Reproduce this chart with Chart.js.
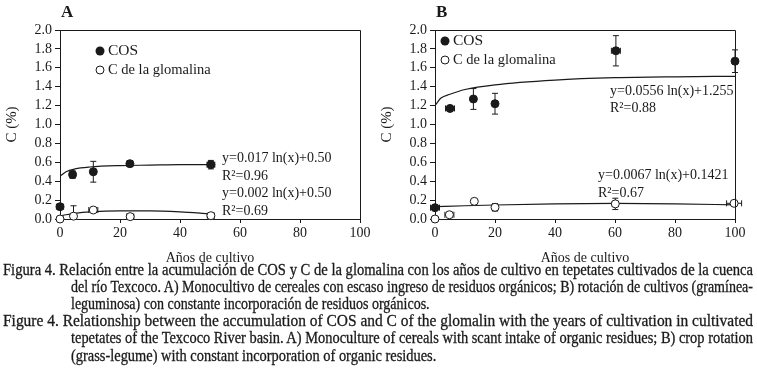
<!DOCTYPE html>
<html>
<head>
<meta charset="utf-8">
<script src="https://cdn.jsdelivr.net/npm/chart.js@4.4.1/dist/chart.umd.min.js"></script>
<style>
  body { margin: 0; background: #fff; width: 757px; height: 387px; overflow: hidden; position: relative;
         font-family: "Liberation Serif", "DejaVu Serif", serif; color: #1a1a1a; }
  #chartA { position: absolute; left: 0; top: 0; }
  #chartB { position: absolute; left: 375px; top: 0; }
  .cap { position: absolute; white-space: nowrap; font-size: 16px; line-height: 20px; transform-origin: 0 50%;
         -webkit-text-stroke: 0.3px #1a1a1a; }
</style>
</head>
<body>
<canvas id="chartA" width="375" height="265"></canvas>
<canvas id="chartB" width="382" height="265"></canvas>

<div class="cap" data-w="750" style="left:3px;top:260px">Figura 4. Relación entre la acumulación de COS y C de la glomalina con los años de cultivo en tepetates cultivados de la cuenca</div>
<div class="cap" data-w="682" style="left:71px;top:277px">del río Texcoco. A) Monocultivo de cereales con escaso ingreso de residuos orgánicos; B) rotación de cultivos (gramínea-</div>
<div class="cap" data-ref="1" style="left:71px;top:294px">leguminosa) con constante incorporación de residuos orgánicos.</div>
<div class="cap" data-w="750" style="left:3px;top:311px">Figure 4. Relationship between the accumulation of COS and C of the glomalin with the years of cultivation in cultivated</div>
<div class="cap" data-w="682" style="left:71px;top:328px">tepetates of the Texcoco River basin. A) Monoculture of cereals with scant intake of organic residues; B) crop rotation</div>
<div class="cap" data-ref="4" style="left:71px;top:346px">(grass-legume) with constant incorporation of organic residues.</div>

<script>
const FONT = "'Liberation Serif', 'DejaVu Serif', serif";
const INK = '#1a1a1a';

// axis ticks
const xTicks = [0, 20, 40, 60, 80, 100];
const yTicks = [0, 0.2, 0.4, 0.6, 0.8, 1.0, 1.2, 1.4, 1.6, 1.8, 2.0];

// panel A - COS
const yearsCosA = [0, 4.2, 11.1, 23.3, 50.3];
const cosA = [0.13, 0.47, 0.50, 0.585, 0.575];
const cosAErrY = [0, 0.04, 0.11, 0.03, 0.045];
const cosAErrX = [1.2, 1, 0, 1, 1.3];
// panel A - C de la glomalina
const yearsGlomA = [0, 4.5, 11.1, 23.4, 50.3];
const glomA = [0.0, 0.03, 0.095, 0.025, 0.035];
const glomAErrY = [0, 0.11, 0, 0, 0];
const glomAErrX = [0, 0, 1.5, 1.2, 1.2];
// panel A - fitted curves
const fitYearsCosA = [0.3, 2, 5, 10, 20, 30, 40, 50];
const fitCosA = [0.46, 0.50, 0.53, 0.55, 0.565, 0.57, 0.575, 0.575];
const fitYearsGlomA = [0, 2, 5, 10, 20, 30, 40, 50];
const fitGlomA = [0.03, 0.045, 0.06, 0.075, 0.085, 0.085, 0.075, 0.055];

// panel B - COS
const yearsCosB = [0, 5, 12.8, 20, 60.3, 100];
const cosB = [0.12, 1.17, 1.27, 1.22, 1.78, 1.67];
const cosBErrY = [0, 0, 0.11, 0.11, 0.16, 0.12];
const cosBErrX = [1.5, 1.5, 0, 0, 1.5, 0];
// panel B - C de la glomalina
const yearsGlomB = [0, 4.8, 13.1, 20, 60.1, 99.7];
const glomB = [0.0, 0.045, 0.187, 0.124, 0.16, 0.166];
const glomBErrY = [0, 0, 0, 0.04, 0.06, 0];
const glomBErrX = [0, 1.5, 0, 1, 1, 2.5];
// panel B - fitted curves
const fitYearsCosB = [0.2, 2, 5, 10, 20, 40, 60, 80, 100];
const fitCosB = [1.21, 1.28, 1.32, 1.37, 1.42, 1.47, 1.495, 1.505, 1.51];
const fitYearsGlomB = [0, 10, 20, 40, 60, 80, 100];
const fitGlomB = [0.13, 0.14, 0.148, 0.16, 0.165, 0.16, 0.15];

function pts(xs, ys) {
    return xs.map((x, i) => ({ x: x, y: ys[i] }));
}

// error bars, drawn under the markers
const errorBars = {
    id: 'errorBars',
    beforeDatasetsDraw(chart) {
        const { ctx, chartArea: a } = chart;
        const x = chart.scales.x, y = chart.scales.y;
        ctx.save();
        ctx.strokeStyle = INK;
        ctx.lineWidth = 1;
        chart.data.datasets.forEach(ds => {
            if (!ds.errY) return;
            ds.data.forEach((p, i) => {
                const px = x.getPixelForValue(p.x);
                const py = y.getPixelForValue(p.y);
                const ey = ds.errY[i], ex = ds.errX[i];
                ctx.beginPath();
                if (ey) {
                    const t = y.getPixelForValue(p.y + ey);
                    const b = Math.min(y.getPixelForValue(p.y - ey), a.bottom);
                    ctx.moveTo(px, t); ctx.lineTo(px, b);
                    ctx.moveTo(px - 3, t); ctx.lineTo(px + 3, t);
                    if (b < a.bottom) { ctx.moveTo(px - 3, b); ctx.lineTo(px + 3, b); }
                }
                if (ex) {
                    const l = x.getPixelForValue(p.x - ex);
                    const r = x.getPixelForValue(p.x + ex);
                    ctx.moveTo(l, py); ctx.lineTo(r, py);
                    ctx.moveTo(l, py - 3); ctx.lineTo(l, py + 3);
                    ctx.moveTo(r, py - 3); ctx.lineTo(r, py + 3);
                }
                ctx.stroke();
            });
        });
        ctx.restore();
    }
};

// frame, panel letter, legend and equations
const extras = {
    id: 'extras',
    afterDraw(chart, args, opts) {
        const { ctx, chartArea: a } = chart;
        ctx.save();
        ctx.strokeStyle = INK;
        ctx.lineWidth = 1;
        ctx.beginPath();
        ctx.moveTo(a.left, a.top + 0.5); ctx.lineTo(a.right + 0.5, a.top + 0.5);
        ctx.lineTo(a.right + 0.5, a.bottom);
        ctx.stroke();

        ctx.fillStyle = INK;
        ctx.textBaseline = 'middle';
        ctx.textAlign = 'left';
        ctx.font = 'bold 17px ' + FONT;
        ctx.fillText(opts.letter, a.left + 1, 13);

        const lx = a.left + opts.legend[0], ly = a.top + opts.legend[1];
        ctx.beginPath(); ctx.arc(lx, ly, 4.5, 0, Math.PI * 2); ctx.fill();
        ctx.font = '15.5px ' + FONT;
        ctx.fillText('COS', lx + 8, ly);
        ctx.font = '14.5px ' + FONT;
        ctx.beginPath(); ctx.arc(lx, ly + 19, 4, 0, Math.PI * 2);
        ctx.fillStyle = '#fff'; ctx.fill(); ctx.stroke();
        ctx.fillStyle = INK;
        ctx.fillText('C de la glomalina', lx + 8, ly + 19);

        ctx.font = '14px ' + FONT;
        opts.eqs.forEach(e => ctx.fillText(e[0], a.left + e[1], a.top + e[2]));
        ctx.restore();
    }
};

function axes() {
    const tickFont = { family: FONT, size: 14 };
    return {
        x: {
            type: 'linear', min: 0, max: 100,
            afterBuildTicks: s => { s.ticks = xTicks.map(v => ({ value: v })); },
            afterFit: s => { s.height = 46; },
            ticks: { color: INK, font: tickFont, padding: 2, maxRotation: 0, autoSkip: false },
            grid: { drawOnChartArea: false, tickLength: 4, color: INK },
            border: { color: INK },
            title: { display: true, text: 'Años de cultivo', color: INK, padding: 0,
                     font: { family: FONT, size: 14, lineHeight: 1 } }
        },
        y: {
            type: 'linear', min: 0, max: 2,
            afterBuildTicks: s => { s.ticks = yTicks.map(v => ({ value: v })); },
            afterFit: s => { s.width = 60; },
            ticks: { color: INK, font: tickFont, padding: 3, autoSkip: false, callback: v => v.toFixed(1) },
            grid: { drawOnChartArea: false, tickLength: 5, color: INK },
            border: { color: INK },
            title: { display: true, text: 'C (%)', color: INK, padding: { top: 3, bottom: 0 },
                     font: { family: FONT, size: 15 } }
        }
    };
}

function panel(id, padRight, sets, extraOpts) {
    const markers = (data, ex, ey, fill) => ({
        data: data, errX: ex, errY: ey, order: 1, clip: false,
        pointRadius: 4, pointHoverRadius: 4, backgroundColor: fill, borderColor: INK, borderWidth: 1
    });
    const curve = data => ({
        data: data, showLine: true, order: 2, clip: false, pointRadius: 0,
        borderColor: INK, borderWidth: 1.2, cubicInterpolationMode: 'monotone', fill: false
    });
    return new Chart(document.getElementById(id), {
        type: 'scatter',
        data: {
            datasets: [
                markers(sets.cos, sets.cosErrX, sets.cosErrY, INK),
                markers(sets.glom, sets.glomErrX, sets.glomErrY, '#fff'),
                curve(sets.fitCos),
                curve(sets.fitGlom)
            ]
        },
        options: {
            responsive: false,
            animation: false,
            events: [],
            layout: { padding: { left: 0, top: 30, right: padRight, bottom: 0 } },
            plugins: { legend: { display: false }, tooltip: { enabled: false }, extras: extraOpts },
            scales: axes()
        },
        plugins: [errorBars, extras]
    });
}

panel('chartA', 15, {
    cos: pts(yearsCosA, cosA), cosErrX: cosAErrX, cosErrY: cosAErrY,
    glom: pts(yearsGlomA, glomA), glomErrX: glomAErrX, glomErrY: glomAErrY,
    fitCos: pts(fitYearsCosA, fitCosA), fitGlom: pts(fitYearsGlomA, fitGlomA)
}, {
    letter: 'A',
    legend: [40, 21],
    eqs: [['y=0.017 ln(x)+0.50', 162, 128], ['R²=0.96', 162, 146],
          ['y=0.002 ln(x)+0.50', 162, 163], ['R²=0.69', 162, 181]]
});

panel('chartB', 22, {
    cos: pts(yearsCosB, cosB), cosErrX: cosBErrX, cosErrY: cosBErrY,
    glom: pts(yearsGlomB, glomB), glomErrX: glomBErrX, glomErrY: glomBErrY,
    fitCos: pts(fitYearsCosB, fitCosB), fitGlom: pts(fitYearsGlomB, fitGlomB)
}, {
    letter: 'B',
    legend: [10, 11],
    eqs: [['y=0.0556 ln(x)+1.255', 175, 61], ['R²=0.88', 175, 78],
          ['y=0.0067 ln(x)+0.1421', 163, 145], ['R²=0.67', 163, 163]]
});

// squeeze caption lines to the justified width of the original
const caps = Array.from(document.querySelectorAll('.cap'));
const scales = [];
caps.forEach((el, i) => {
    const w = el.getBoundingClientRect().width;
    let k = 1;
    if (el.dataset.w) k = parseFloat(el.dataset.w) / w;
    else if (el.dataset.ref) k = scales[parseInt(el.dataset.ref)];
    scales[i] = k;
    el.style.transform = 'scaleX(' + k + ')';
});
</script>
</body>
</html>
